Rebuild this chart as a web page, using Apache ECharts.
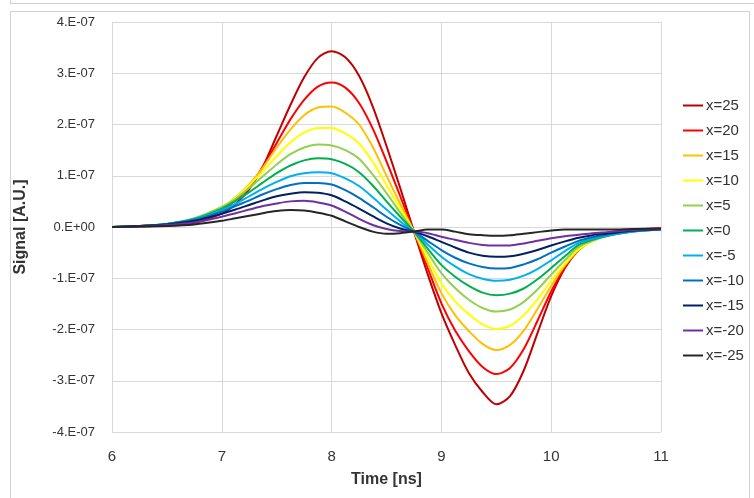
<!DOCTYPE html>
<html>
<head>
<meta charset="utf-8">
<script src="https://cdn.jsdelivr.net/npm/echarts@6/dist/echarts.min.js"></script>
<style>
html,body{margin:0;padding:0;background:#fff;}
#chart{width:754px;height:498px;}
</style>
</head>
<body>
<div id="chart"></div>
<script>
// Time axis (ns)
const time = [6, 6.25, 6.5, 6.75,
  7, 7.125, 7.25, 7.375, 7.5, 7.625, 7.75, 7.875, 8, 8.125, 8.25, 8.375, 8.5, 8.625, 8.75, 8.875,
  9, 9.125, 9.25, 9.375, 9.5, 9.625, 9.75, 9.875, 10, 10.125, 10.25, 10.375, 10.5,
  10.75, 11];
// Signal values in units of 1e-7 A.U.
const x25  = [0, 0.01, 0.03, 0.08,
  0.26, 0.45, 0.74, 1.18, 1.78, 2.38, 2.92, 3.30, 3.43, 3.31, 2.95, 2.35, 1.58, 0.76, -0.09, -0.92,
  -1.68, -2.30, -2.85, -3.22, -3.46, -3.30, -2.80, -2.07, -1.35, -0.80, -0.44, -0.22, -0.12,
  -0.05, -0.03];
const x20  = [0, 0.01, 0.04, 0.11,
  0.33, 0.52, 0.79, 1.18, 1.64, 2.10, 2.48, 2.74, 2.82, 2.72, 2.42, 1.92, 1.28, 0.60, -0.09, -0.80,
  -1.49, -2.02, -2.42, -2.73, -2.87, -2.75, -2.38, -1.83, -1.26, -0.78, -0.45, -0.25, -0.14,
  -0.06, -0.03];
const x15  = [0, 0.01, 0.05, 0.14,
  0.38, 0.58, 0.83, 1.16, 1.55, 1.90, 2.18, 2.33, 2.35, 2.23, 2.00, 1.56, 1.00, 0.45, -0.09, -0.70,
  -1.29, -1.72, -2.03, -2.28, -2.40, -2.30, -2.02, -1.60, -1.15, -0.75, -0.45, -0.27, -0.16,
  -0.07, -0.04];
const x10  = [0, 0.02, 0.06, 0.16,
  0.39, 0.57, 0.81, 1.09, 1.38, 1.65, 1.84, 1.93, 1.93, 1.82, 1.63, 1.27, 0.82, 0.36, -0.09, -0.60,
  -1.10, -1.45, -1.70, -1.90, -1.99, -1.93, -1.72, -1.41, -1.05, -0.72, -0.43, -0.28, -0.17,
  -0.08, -0.04];
const x5   = [0, 0.02, 0.06, 0.17,
  0.39, 0.55, 0.76, 0.99, 1.22, 1.42, 1.55, 1.61, 1.59, 1.50, 1.33, 1.02, 0.66, 0.28, -0.09, -0.50,
  -0.90, -1.19, -1.42, -1.58, -1.65, -1.61, -1.46, -1.22, -0.93, -0.65, -0.39, -0.27, -0.18,
  -0.09, -0.05];
const x0   = [0, 0.02, 0.06, 0.16,
  0.36, 0.51, 0.68, 0.87, 1.05, 1.20, 1.30, 1.34, 1.32, 1.23, 1.07, 0.81, 0.50, 0.20, -0.09, -0.42,
  -0.74, -0.97, -1.15, -1.28, -1.33, -1.30, -1.20, -1.02, -0.80, -0.57, -0.35, -0.25, -0.18,
  -0.09, -0.05];
const xm5  = [0, 0.02, 0.06, 0.15,
  0.33, 0.45, 0.60, 0.75, 0.88, 0.99, 1.05, 1.07, 1.05, 0.95, 0.80, 0.58, 0.34, 0.11, -0.09, -0.34,
  -0.58, -0.77, -0.92, -1.01, -1.05, -1.03, -0.95, -0.82, -0.65, -0.47, -0.31, -0.23, -0.17,
  -0.09, -0.05];
const xm10 = [0, 0.02, 0.06, 0.14,
  0.30, 0.41, 0.52, 0.64, 0.74, 0.82, 0.86, 0.86, 0.83, 0.72, 0.57, 0.39, 0.20, 0.04, -0.09, -0.27,
  -0.45, -0.60, -0.71, -0.78, -0.81, -0.80, -0.73, -0.63, -0.50, -0.38, -0.27, -0.20, -0.15,
  -0.08, -0.05];
const xm15 = [0, 0.02, 0.05, 0.12,
  0.26, 0.34, 0.43, 0.52, 0.60, 0.65, 0.68, 0.67, 0.62, 0.50, 0.36, 0.21, 0.07, -0.03, -0.09, -0.18,
  -0.29, -0.40, -0.50, -0.56, -0.58, -0.57, -0.52, -0.45, -0.36, -0.28, -0.21, -0.16, -0.13,
  -0.07, -0.04];
const xm20 = [0, 0.01, 0.04, 0.09,
  0.20, 0.27, 0.34, 0.41, 0.46, 0.50, 0.51, 0.48, 0.42, 0.30, 0.16, 0.04, -0.04, -0.08, -0.09, -0.12,
  -0.19, -0.25, -0.31, -0.35, -0.36, -0.36, -0.32, -0.27, -0.22, -0.18, -0.15, -0.12, -0.10,
  -0.06, -0.04];
const xm25 = [0, 0.01, 0.02, 0.05,
  0.12, 0.17, 0.22, 0.27, 0.31, 0.33, 0.32, 0.28, 0.22, 0.11, 0.00, -0.09, -0.13, -0.12, -0.09, -0.05,
  -0.05, -0.09, -0.14, -0.16, -0.17, -0.16, -0.13, -0.10, -0.07, -0.05, -0.05, -0.05, -0.05,
  -0.04, -0.03];

const seriesNames = ['x=25', 'x=20', 'x=15', 'x=10', 'x=5', 'x=0', 'x=-5', 'x=-10', 'x=-15', 'x=-20', 'x=-25'];
const seriesValues = [x25, x20, x15, x10, x5, x0, xm5, xm10, xm15, xm20, xm25];
const seriesColors = ['#C00000', '#FF0000', '#FFC000', '#FFFF00', '#92D050', '#00B050', '#00B0F0', '#0070C0', '#002060', '#7030A0', '#262626'];

// Tick labels
const xTicks = [6, 7, 8, 9, 10, 11];
const yTickValues = [-4, -3, -2, -1, 0, 1, 2, 3, 4];
const yTickLabels = ['-4.E-07', '-3.E-07', '-2.E-07', '-1.E-07', '0.E+00', '1.E-07', '2.E-07', '3.E-07', '4.E-07'];

const FONT = "'Liberation Sans', Arial, sans-serif";

const chart = echarts.init(document.getElementById('chart'), null, {renderer: 'canvas'});

const series = seriesNames.map((name, i) => ({
  name: name,
  type: 'line',
  data: time.map((t, j) => [t, seriesValues[i][j]]),
  smooth: 0.3,
  showSymbol: false,
  symbol: 'none',
  lineStyle: {width: 2, color: seriesColors[i]},
  itemStyle: {color: seriesColors[i]},
  emphasis: {disabled: true},
  z: 2 + i
}));

chart.setOption({
  animation: false,
  backgroundColor: '#ffffff',
  textStyle: {fontFamily: FONT},
  graphic: [
    {type: 'line', shape: {x1: 10, y1: 3.5, x2: 754, y2: 3.5}, style: {stroke: '#d0d0d0', lineWidth: 1}, silent: true},
    {type: 'line', shape: {x1: 10.5, y1: 0, x2: 10.5, y2: 3.5}, style: {stroke: '#d0d0d0', lineWidth: 1}, silent: true},
    {type: 'rect', shape: {x: 10.5, y: 11.5, width: 739, height: 500}, style: {fill: 'none', stroke: '#d0d0d0', lineWidth: 1}, silent: true}
  ],
  grid: {left: 112, right: 93, top: 22, bottom: 66, containLabel: false},
  legend: {
    orient: 'vertical',
    left: 683,
    top: 97,
    padding: 0,
    itemWidth: 20,
    itemHeight: 2,
    itemGap: 8,
    icon: 'rect',
    data: seriesNames,
    textStyle: {fontSize: 15, color: '#333', fontFamily: FONT, lineHeight: 17, padding: [0, 0, 0, -2]}
  },
  xAxis: {
    type: 'value',
    min: 6,
    max: 11,
    interval: 1,
    name: 'Time [ns]',
    nameLocation: 'middle',
    nameGap: 40,
    nameTextStyle: {fontSize: 16, fontWeight: 'bold', color: '#333', fontFamily: FONT},
    axisLine: {show: false},
    axisTick: {show: false},
    axisLabel: {
      fontSize: 15, color: '#333', margin: 17, fontFamily: FONT,
      formatter: v => (xTicks.indexOf(v) >= 0 ? String(v) : '')
    },
    splitLine: {show: true, lineStyle: {color: '#d9d9d9', width: 1}}
  },
  yAxis: {
    type: 'value',
    min: -4,
    max: 4,
    interval: 1,
    name: 'Signal [A.U.]',
    nameLocation: 'middle',
    nameGap: 83,
    nameTextStyle: {fontSize: 16, fontWeight: 'bold', color: '#333', fontFamily: FONT},
    axisLine: {show: false},
    axisTick: {show: false},
    axisLabel: {
      fontSize: 13, color: '#333', margin: 17, fontFamily: FONT,
      formatter: v => {
        const k = yTickValues.indexOf(v);
        return k >= 0 ? yTickLabels[k] : '';
      }
    },
    splitLine: {show: true, lineStyle: {color: '#d9d9d9', width: 1}}
  },
  series: series
});
</script>
</body>
</html>
